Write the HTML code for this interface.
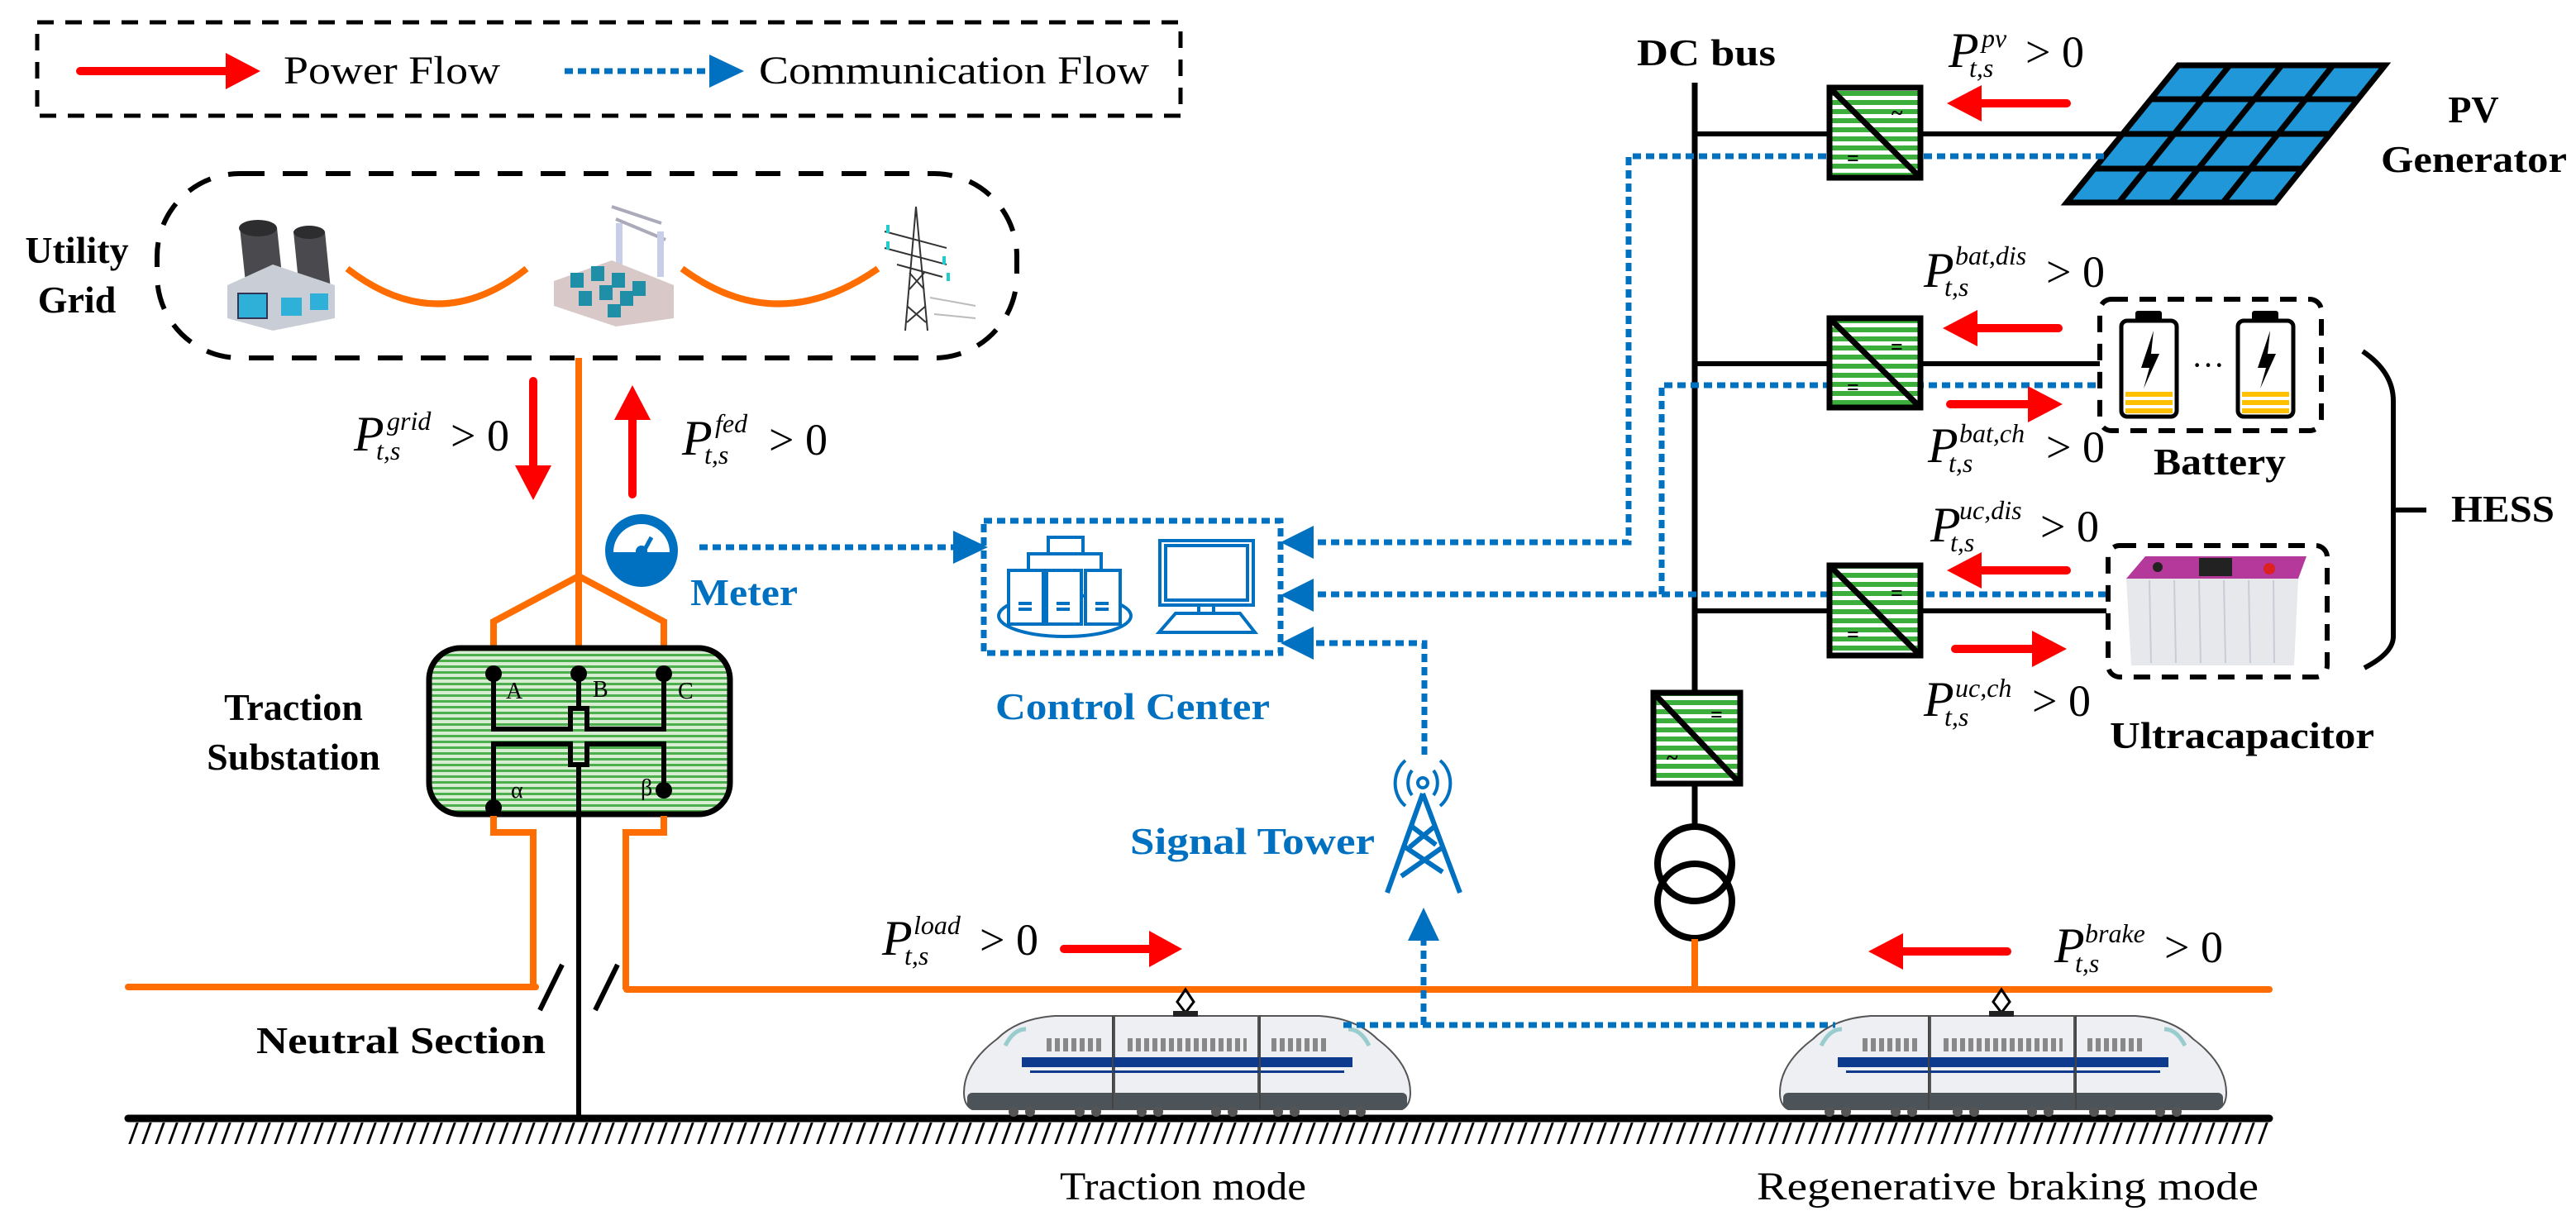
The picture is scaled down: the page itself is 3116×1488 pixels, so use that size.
<!DOCTYPE html>
<html><head><meta charset="utf-8"><style>
html,body{margin:0;padding:0;background:#fff}
svg{display:block}
text{font-family:"Liberation Serif",serif}
.P{font-style:italic;font-size:60px}
.s{font-style:italic;font-size:32px}
.m{font-size:54px}
.b{font-weight:bold;font-size:46px;font-family:"Liberation Serif",serif}
.bl{font-weight:bold;font-size:46px;fill:#0070c0;font-family:"Liberation Serif",serif}
.r{font-size:48px}
.red{stroke:#ff0000;stroke-width:10;fill:none;stroke-linecap:round}
.rh{fill:#ff0000}
.dot{stroke:#0070c0;stroke-width:7;fill:none;stroke-dasharray:10 6}
.bh{fill:#0070c0}
.or{stroke:#ff6d00;fill:none;stroke-width:8}
.k{stroke:#000;fill:none}
</style></head><body>
<svg width="3116" height="1488" viewBox="0 0 3116 1488" xmlns="http://www.w3.org/2000/svg">
<defs>
<pattern id="stripe" width="10" height="11" patternUnits="userSpaceOnUse"><rect width="10" height="11" fill="#fff"/><rect width="10" height="6" fill="#3cae3c"/></pattern>
<pattern id="fine" width="6" height="7" patternUnits="userSpaceOnUse"><rect width="6" height="7" fill="#d8eed2"/><rect width="6" height="3" fill="#4cae4c"/></pattern>
<g id="train">
 <path d="M0,95 Q0,60 40,30 Q65,5 110,2 L180,2 L180,115 L10,115 Q0,110 0,95Z" fill="#eeeff3" stroke="#555" stroke-width="2"/>
 <rect x="182" y="2" width="174" height="113" fill="#eeeff3" stroke="#555" stroke-width="2"/>
 <path d="M540,95 Q540,60 500,30 Q475,5 430,2 L358,2 L358,115 L530,115 Q540,110 540,95Z" fill="#eeeff3" stroke="#555" stroke-width="2"/>
 <rect x="4" y="95" width="532" height="20" rx="6" fill="#4d5459"/>
 <rect x="70" y="52" width="400" height="12" fill="#0d3a8c"/>
 <rect x="80" y="68" width="380" height="3" fill="#0d3a8c"/>
 <g stroke="#888" stroke-width="16" stroke-dasharray="6 4" fill="none">
  <path d="M100,37h70M198,37h144M372,37h70"/>
 </g>
 <path d="M50,38 q10,-20 25,-20" stroke="#9cc" stroke-width="5" fill="none"/>
 <path d="M490,38 q-10,-20 -25,-20" stroke="#9cc" stroke-width="5" fill="none"/>
 <g stroke="#444" stroke-width="2"><line x1="180" y1="2" x2="180" y2="115"/><line x1="358" y1="2" x2="358" y2="115"/></g>
 <g fill="#555"><circle cx="60" cy="118" r="6"/><circle cx="80" cy="118" r="6"/><circle cx="140" cy="118" r="6"/><circle cx="160" cy="118" r="6"/><circle cx="215" cy="118" r="6"/><circle cx="235" cy="118" r="6"/><circle cx="305" cy="118" r="6"/><circle cx="325" cy="118" r="6"/><circle cx="380" cy="118" r="6"/><circle cx="400" cy="118" r="6"/><circle cx="460" cy="118" r="6"/><circle cx="480" cy="118" r="6"/></g>
 <polygon points="268,-30 278,-15 268,-2 258,-15" fill="none" stroke="#000" stroke-width="3"/>
 <rect x="253" y="-4" width="30" height="7" fill="#222"/>
</g>
</defs>

<!-- Legend -->
<rect x="45" y="27" width="1383" height="113" fill="none" stroke="#000" stroke-width="5" stroke-dasharray="20 14"/>
<line x1="97" y1="86" x2="278" y2="86" class="red"/><polygon class="rh" points="315,86 273,64 273,108"/>
<text x="343" y="101" class="r" textLength="262" lengthAdjust="spacingAndGlyphs">Power Flow</text>
<line x1="683" y1="86" x2="862" y2="86" class="dot"/><polygon class="bh" points="900,86 858,66 858,106"/>
<text x="918" y="101" class="r" textLength="472" lengthAdjust="spacingAndGlyphs">Communication Flow</text>

<!-- Utility grid -->
<rect x="190" y="210" width="1040" height="223" rx="100" fill="none" stroke="#000" stroke-width="6" stroke-dasharray="30 22"/>
<text x="93" y="318" class="b" text-anchor="middle">Utility</text>
<text x="93" y="378" class="b" text-anchor="middle">Grid</text>
<g>
 <path d="M290,275 L300,370 L345,370 L335,275Z" fill="#4a4a4e"/>
 <ellipse cx="312" cy="276" rx="23" ry="10" fill="#2d2d30"/>
 <path d="M355,280 L362,350 L400,350 L393,280Z" fill="#4a4a4e"/>
 <ellipse cx="374" cy="281" rx="19" ry="8" fill="#2d2d30"/>
 <polygon points="275,345 330,320 405,345 405,385 330,400 275,385" fill="#c9ced6"/>
 <rect x="288" y="355" width="35" height="30" fill="#2fb0d8" stroke="#335" stroke-width="2"/>
 <rect x="340" y="360" width="25" height="22" fill="#2fb0d8"/>
 <rect x="375" y="355" width="22" height="20" fill="#2fb0d8"/>
</g>
<g>
 <path d="M740,250 L800,270 M745,265 L805,290" stroke="#aab" stroke-width="4"/>
 <rect x="745" y="270" width="8" height="50" fill="#c8cde8"/><rect x="795" y="280" width="8" height="55" fill="#c8cde8"/>
 <polygon points="670,340 740,315 815,345 815,385 745,395 670,370" fill="#d8c8c8"/>
 <g fill="#1f8fa8"><rect x="690" y="330" width="16" height="18"/><rect x="715" y="322" width="16" height="18"/><rect x="740" y="330" width="16" height="18"/><rect x="700" y="352" width="16" height="18"/><rect x="725" y="345" width="16" height="18"/><rect x="750" y="352" width="16" height="18"/><rect x="735" y="368" width="16" height="16"/><rect x="765" y="340" width="16" height="18"/></g>
</g>
<g stroke="#333" stroke-width="2" fill="none">
 <path d="M1108,250 L1095,400 M1108,250 L1122,400 M1100,330 L1118,350 M1118,330 L1100,350 M1097,370 L1120,390 M1120,370 L1097,390"/>
 <path d="M1070,280 L1145,300 M1070,300 L1145,320 M1085,320 L1140,335"/>
 <path d="M1125,360 L1180,370 M1130,380 L1180,385" stroke="#bbb"/>
</g>
<g fill="#2cc" ><rect x="1072" y="272" width="4" height="10"/><rect x="1072" y="292" width="4" height="10"/><rect x="1140" y="310" width="4" height="10"/><rect x="1145" y="330" width="4" height="10"/></g>
<path d="M420,325 Q530,410 637,325" class="or"/>
<path d="M825,325 Q940,410 1062,325" class="or"/>

<!-- grid arrows -->
<line x1="645" y1="461" x2="645" y2="565" class="red"/><polygon class="rh" points="645,605 623,563 667,563"/>
<line x1="765" y1="506" x2="765" y2="598" class="red"/><polygon class="rh" points="765,466 743,508 787,508"/>
<text x="428" y="545" class="P">P</text><text x="468" y="520" class="s">grid</text><text x="455" y="556" class="s">t,s</text><text x="545" y="545" class="m">&gt; 0</text>
<text x="825" y="550" class="P">P</text><text x="865" y="523" class="s">fed</text><text x="852" y="561" class="s">t,s</text><text x="930" y="550" class="m">&gt; 0</text>

<line x1="700" y1="433" x2="700" y2="815" class="or" stroke-width="7"/>
<polyline points="700,697 597,752 597,815" class="or" stroke-width="7"/>
<polyline points="700,697 803,752 803,815" class="or" stroke-width="7"/>

<!-- Meter -->
<circle cx="776" cy="666" r="44" fill="#0070c0"/>
<path d="M742,668 A34,34 0 0 1 810,668 Z" fill="#fff"/>
<line x1="776" y1="672" x2="788" y2="650" stroke="#0070c0" stroke-width="5"/><circle cx="776" cy="667" r="7" fill="#0070c0"/>
<text x="835" y="732" class="bl" textLength="130" lengthAdjust="spacingAndGlyphs">Meter</text>
<line x1="846" y1="662" x2="1156" y2="662" class="dot"/><polygon class="bh" points="1195,662 1153,642 1153,682"/>

<!-- Substation -->
<text x="355" y="871" class="b" text-anchor="middle">Traction</text>
<text x="355" y="931" class="b" text-anchor="middle">Substation</text>
<rect x="519" y="784" width="364" height="201" rx="38" fill="url(#fine)" stroke="#000" stroke-width="7"/>
<g class="k" stroke-width="6">
 <path d="M597,815 V882 H690 V857 H710 V882 H803 V815"/>
 <path d="M597,975 V900 H690 V925 H710 V900 H803 V956"/>
 <path d="M700,815 V857 M700,925 V987"/>
</g>
<g fill="#000"><circle cx="597" cy="815" r="10"/><circle cx="700" cy="815" r="10"/><circle cx="803" cy="815" r="10"/><circle cx="597" cy="977" r="10"/><circle cx="803" cy="956" r="10"/></g>
<g font-size="28" font-family="Liberation Serif"><text x="612" y="845">A</text><text x="717" y="843">B</text><text x="820" y="845">C</text><text x="618" y="965">α</text><text x="775" y="962">β</text></g>
<polyline points="597,987 597,1007 645,1007 645,1194" class="or" stroke-width="7"/>
<polyline points="803,987 803,1007 757,1007 757,1197" class="or" stroke-width="7"/>
<line x1="700" y1="987" x2="700" y2="1353" class="k" stroke-width="6"/>

<!-- catenary -->
<line x1="155" y1="1194" x2="648" y2="1194" class="or" stroke-width="9" stroke-linecap="round"/>
<line x1="758" y1="1197" x2="2745" y2="1197" class="or" stroke-width="9" stroke-linecap="round"/>
<line x1="653" y1="1222" x2="680" y2="1167" class="k" stroke-width="6"/>
<line x1="720" y1="1222" x2="747" y2="1167" class="k" stroke-width="6"/>
<text x="310" y="1274" class="b" textLength="350" lengthAdjust="spacingAndGlyphs">Neutral Section</text>

<!-- ground -->
<line x1="155" y1="1353" x2="2745" y2="1353" class="k" stroke-width="9" stroke-linecap="round"/>
<line x1="160" y1="1371" x2="2740" y2="1371" stroke="#000" stroke-width="26" stroke-dasharray="3 13" transform="skewX(-20) translate(499,0)"/>

<!-- trains -->
<use href="#train" transform="translate(1166,1227)"/>
<use href="#train" transform="translate(2153,1227)"/>
<text x="1282" y="1451" class="r" textLength="298" lengthAdjust="spacingAndGlyphs">Traction mode</text>
<text x="2125" y="1451" class="r" textLength="607" lengthAdjust="spacingAndGlyphs">Regenerative braking mode</text>

<text x="1067" y="1155" class="P">P</text><text x="1105" y="1130" class="s">load</text><text x="1094" y="1167" class="s">t,s</text><text x="1185" y="1155" class="m">&gt; 0</text>
<line x1="1287" y1="1148" x2="1392" y2="1148" class="red"/><polygon class="rh" points="1430,1148 1390,1126 1390,1170"/>
<line x1="2300" y1="1151" x2="2428" y2="1151" class="red"/><polygon class="rh" points="2260,1151 2302,1129 2302,1173"/>
<text x="2485" y="1164" class="P">P</text><text x="2522" y="1140" class="s">brake</text><text x="2510" y="1176" class="s">t,s</text><text x="2618" y="1164" class="m">&gt; 0</text>

<!-- Control center -->
<rect x="1190" y="630" width="359" height="160" fill="none" stroke="#0070c0" stroke-width="7" stroke-dasharray="10 6"/>
<g fill="none" stroke="#0070c0" stroke-width="4">
 <ellipse cx="1288" cy="745" rx="80" ry="25"/>
 <rect x="1220" y="690" width="42" height="65" fill="#fff"/><rect x="1266" y="690" width="42" height="65" fill="#fff"/><rect x="1313" y="690" width="42" height="65" fill="#fff"/>
 <path d="M1244,690 V670 H1332 V690 M1268,670 V650 H1310 V670"/>
 <path d="M1232,730h16M1232,737h16M1278,730h16M1278,737h16M1325,730h16M1325,737h16"/>
 <rect x="1403" y="654" width="113" height="78"/><rect x="1410" y="660" width="99" height="66"/>
 <path d="M1450,732 V742 M1468,732 V742 M1422,742 H1500 L1518,765 H1402 Z"/>
</g>
<text x="1204" y="870" class="bl" textLength="332" lengthAdjust="spacingAndGlyphs">Control Center</text>

<!-- signal tower -->
<text x="1367" y="1033" class="bl" textLength="296" lengthAdjust="spacingAndGlyphs">Signal Tower</text>
<g fill="none" stroke="#0070c0" stroke-width="6">
 <path d="M1721,960 L1678,1080 M1721,960 L1766,1080 M1708,1000 L1737,1022 M1735,1000 L1705,1025 M1700,1025 L1745,1055 M1745,1025 L1695,1060"/>
 <circle cx="1721" cy="947" r="6" stroke-width="4"/>
 <path d="M1708,932 a18,22 0 0 0 0,30 M1734,932 a18,22 0 0 1 0,30" stroke-width="4"/>
 <path d="M1700,920 a30,34 0 0 0 0,55 M1742,920 a30,34 0 0 1 0,55" stroke-width="4"/>
</g>
<polyline points="1723,913 1723,778 1592,778" class="dot"/><polygon class="bh" points="1549,778 1589,758 1589,798"/>
<polyline points="1625,1240 2220,1240" class="dot"/>
<line x1="1722" y1="1240" x2="1722" y2="1135" class="dot"/><polygon class="bh" points="1722,1098 1703,1138 1741,1138"/>

<!-- DC bus -->
<text x="1980" y="79" class="b" textLength="168" lengthAdjust="spacingAndGlyphs">DC bus</text>
<line x1="2050" y1="100" x2="2050" y2="1000" class="k" stroke-width="7"/>
<line x1="2050" y1="162" x2="2565" y2="162" class="k" stroke-width="6"/>
<line x1="2050" y1="440" x2="2540" y2="440" class="k" stroke-width="6"/>
<line x1="2050" y1="739" x2="2548" y2="739" class="k" stroke-width="6"/>

<!-- PV -->
<polygon points="2635,79 2885,79 2752,245 2500,245" fill="#1f97d8" stroke="#000" stroke-width="7"/>
<g class="k" stroke-width="7">
 <line x1="2601" y1="120" x2="2852" y2="120"/><line x1="2568" y1="162" x2="2819" y2="162"/><line x1="2534" y1="204" x2="2785" y2="204"/>
 <line x1="2697" y1="79" x2="2563" y2="245"/><line x1="2760" y1="79" x2="2626" y2="245"/><line x1="2822" y1="79" x2="2689" y2="245"/>
</g>
<text x="2992" y="148" class="b" text-anchor="middle">PV</text>
<text x="2880" y="208" class="b" textLength="225" lengthAdjust="spacingAndGlyphs">Generator</text>
<text x="2357" y="81" class="P">P</text><text x="2397" y="57" class="s">pv</text><text x="2382" y="93" class="s">t,s</text><text x="2450" y="81" class="m">&gt; 0</text>
<line x1="2395" y1="125" x2="2500" y2="125" class="red"/><polygon class="rh" points="2355,125 2397,103 2397,147"/>

<polyline points="2545,189 1970,189 1970,656 1592,656" class="dot"/><polygon class="bh" points="1549,656 1589,636 1589,676"/>
<polyline points="2535,466 2010,466 2010,719" class="dot"/>
<polyline points="2548,719 1592,719" class="dot"/><polygon class="bh" points="1549,720 1589,700 1589,740"/>

<!-- converters -->
<g stroke="#000" stroke-width="7">
 <rect x="2213" y="106" width="110" height="109" fill="url(#stripe)"/>
 <rect x="2213" y="385" width="110" height="108" fill="url(#stripe)"/>
 <rect x="2213" y="684" width="110" height="109" fill="url(#stripe)"/>
 <rect x="2000" y="838" width="105" height="110" fill="url(#stripe)"/>
 <line x1="2213" y1="106" x2="2323" y2="215"/><line x1="2213" y1="385" x2="2323" y2="493"/><line x1="2213" y1="684" x2="2323" y2="793"/><line x1="2000" y1="838" x2="2105" y2="948"/>
</g>
<g font-family="Liberation Sans" font-weight="bold" font-size="26">
 <text x="2288" y="145">~</text><text x="2234" y="200">=</text>
 <text x="2287" y="428">=</text><text x="2234" y="477">=</text>
 <text x="2287" y="726">=</text><text x="2234" y="776">=</text>
 <text x="2069" y="873">=</text><text x="2016" y="925">~</text>
</g>

<circle cx="2050" cy="1045" r="45" class="k" stroke-width="8"/>
<circle cx="2050" cy="1090" r="45" class="k" stroke-width="8"/>
<line x1="2050" y1="1136" x2="2050" y2="1197" class="or" stroke-width="6"/>

<!-- battery -->
<text x="2327" y="347" class="P">P</text><text x="2365" y="320" class="s">bat,dis</text><text x="2352" y="358" class="s">t,s</text><text x="2475" y="347" class="m">&gt; 0</text>
<line x1="2392" y1="397" x2="2490" y2="397" class="red"/><polygon class="rh" points="2350,397 2392,375 2392,419"/>
<line x1="2359" y1="489" x2="2455" y2="489" class="red"/><polygon class="rh" points="2495,489 2453,467 2453,511"/>
<text x="2332" y="559" class="P">P</text><text x="2370" y="535" class="s">bat,ch</text><text x="2357" y="571" class="s">t,s</text><text x="2475" y="559" class="m">&gt; 0</text>
<rect x="2540" y="362" width="268" height="159" rx="14" fill="none" stroke="#000" stroke-width="6" stroke-dasharray="20 14"/>
<g>
 <rect x="2583" y="376" width="32" height="14" rx="3"/><rect x="2566" y="388" width="67" height="116" rx="7" fill="#fff" stroke="#000" stroke-width="5"/>
 <rect x="2724" y="376" width="32" height="14" rx="3"/><rect x="2707" y="388" width="67" height="116" rx="7" fill="#fff" stroke="#000" stroke-width="5"/>
 <g fill="#ffc000"><rect x="2571" y="474" width="57" height="6"/><rect x="2571" y="484" width="57" height="6"/><rect x="2571" y="494" width="57" height="6"/><rect x="2712" y="474" width="57" height="6"/><rect x="2712" y="484" width="57" height="6"/><rect x="2712" y="494" width="57" height="6"/></g>
 <polygon points="2605,400 2590,445 2600,445 2593,470 2612,428 2602,428" fill="#000"/>
 <polygon points="2746,400 2731,445 2741,445 2734,470 2753,428 2743,428" fill="#000"/>
 <text x="2651" y="455" font-size="40">···</text>
</g>
<text x="2605" y="574" class="b" textLength="160" lengthAdjust="spacingAndGlyphs">Battery</text>

<path d="M2858,425 Q2895,450 2895,485 L2895,770 Q2895,790 2860,808" class="k" stroke-width="6"/>
<line x1="2895" y1="617" x2="2935" y2="617" class="k" stroke-width="6"/>
<text x="2965" y="631" class="b" textLength="125" lengthAdjust="spacingAndGlyphs">HESS</text>

<!-- ultracapacitor -->
<text x="2335" y="655" class="P">P</text><text x="2370" y="628" class="s">uc,dis</text><text x="2359" y="667" class="s">t,s</text><text x="2468" y="655" class="m">&gt; 0</text>
<line x1="2397" y1="690" x2="2500" y2="690" class="red"/><polygon class="rh" points="2355,690 2397,668 2397,712"/>
<line x1="2365" y1="785" x2="2460" y2="785" class="red"/><polygon class="rh" points="2500,785 2458,763 2458,807"/>
<text x="2327" y="866" class="P">P</text><text x="2365" y="843" class="s">uc,ch</text><text x="2352" y="878" class="s">t,s</text><text x="2458" y="866" class="m">&gt; 0</text>
<rect x="2550" y="660" width="265" height="159" rx="14" fill="none" stroke="#000" stroke-width="6" stroke-dasharray="20 14"/>
<g>
 <polygon points="2572,700 2595,673 2790,673 2780,700" fill="#b5389b"/>
 <polygon points="2572,700 2780,700 2775,805 2578,805" fill="#e6e8ec"/>
 <g stroke="#c8ccd4" stroke-width="2"><line x1="2600" y1="702" x2="2602" y2="802"/><line x1="2630" y1="702" x2="2632" y2="802"/><line x1="2660" y1="702" x2="2662" y2="802"/><line x1="2690" y1="702" x2="2692" y2="802"/><line x1="2720" y1="702" x2="2722" y2="802"/><line x1="2750" y1="702" x2="2751" y2="802"/></g>
 <rect x="2660" y="675" width="40" height="22" fill="#222"/><circle cx="2610" cy="686" r="6" fill="#222"/><circle cx="2745" cy="688" r="7" fill="#d22"/>
</g>
<text x="2552" y="905" class="b" textLength="320" lengthAdjust="spacingAndGlyphs">Ultracapacitor</text>
</svg>
</body></html>
